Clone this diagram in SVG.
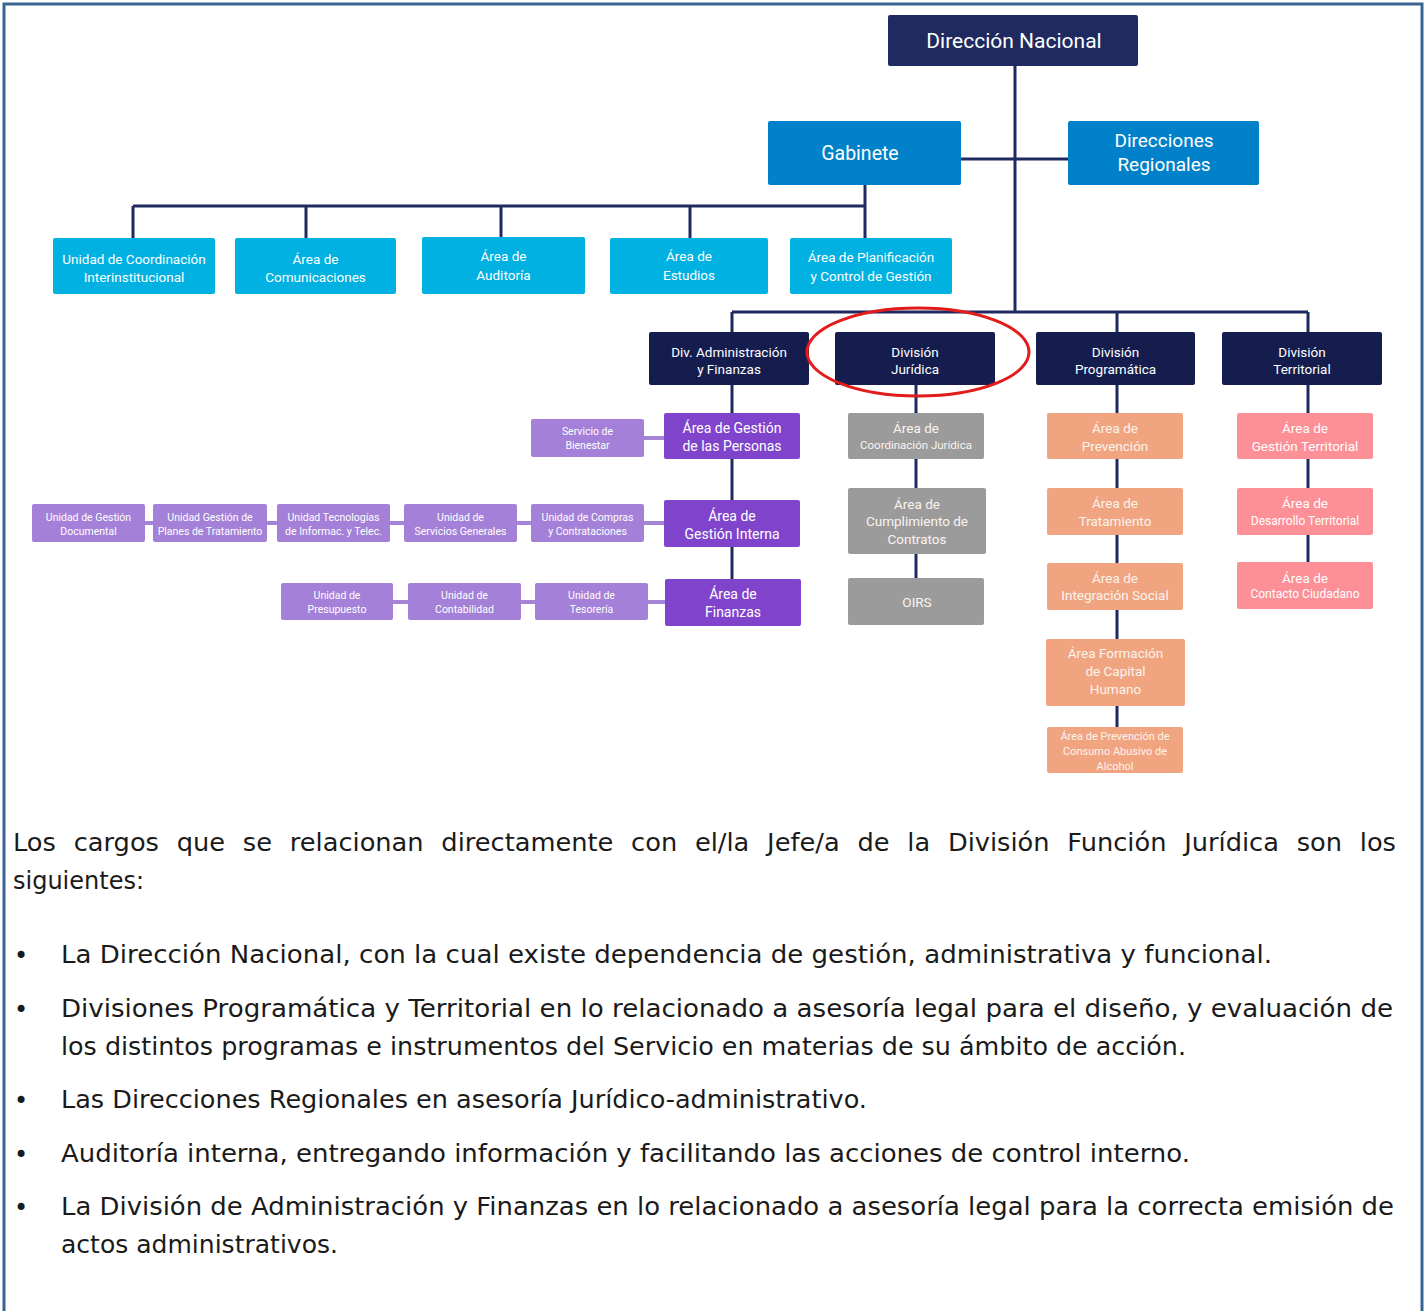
<svg xmlns="http://www.w3.org/2000/svg" width="1427" height="1311" viewBox="0 0 1427 1311">
<style>
.c{fill:none;stroke:#1f2a60;stroke-width:3}
.lc{fill:none;stroke:#a584d8;stroke-width:4}
.t{font-family:Roboto,"Noto Sans",sans-serif;font-weight:400;fill:#fff;text-anchor:middle}
.dn rect{fill:#1f2a60}
.gb rect{fill:#0081c9}
.lb rect{fill:#00b1e1}
.dv rect{fill:#141d4e}
.pm rect{fill:#8044cc}
.pl rect{fill:#a480d8}
.gr rect{fill:#9b9b9b}
.or rect{fill:#f0a580}
.pk rect{fill:#fc9096}
.or text,.gr text{fill:#fbf3ee}
.body{font-family:"DejaVu Sans","Liberation Sans",sans-serif;font-size:24px;fill:#1a1a1a}
</style>
<rect x="0" y="0" width="1427" height="1311" fill="#fff"/>
<path d="M4,1311 V4 H1422 V1311" fill="none" stroke="#3a6496" stroke-width="3"/>

<g id="connectors">
<path class="c" d="M1015,66 V312"/>
<path class="c" d="M961,159 H1068"/>
<path class="c" d="M865,185 V206 M133,206 H865 M133,206 V238 M306,206 V238 M501,206 V237 M690,206 V238 M865,206 V238"/>
<path class="c" d="M732,312 H1308 M732,312 V332 M1117,312 V332 M1308,312 V332"/>
<path class="c" d="M732,385 V579"/>
<path class="c" d="M916,385 V578"/>
<path class="c" d="M1117,385 V727"/>
<path class="c" d="M1308,385 V562"/>
<path class="lc" d="M644,438 H664 M145,523 H664 M393,602 H665"/>
</g>

<g id="direccion-nacional" class="dn"><rect x="888" y="15" width="250" height="51" rx="2"/><text class="t" x="1014" y="48" font-size="21">Dirección Nacional</text></g>
<g id="gabinete" class="gb"><rect x="768" y="121" width="193" height="64" rx="2"/><text class="t" x="860" y="160" font-size="19.5">Gabinete</text></g>
<g id="direcciones-regionales" class="gb"><rect x="1068" y="121" width="191" height="64" rx="2"/><text class="t" x="1164" y="147" font-size="19">Direcciones</text><text class="t" x="1164" y="171" font-size="19">Regionales</text></g>

<g id="unidad-coordinacion" class="lb"><rect x="53" y="238" width="162" height="56" rx="2"/><text class="t" x="134" y="264" font-size="13.5">Unidad de Coordinación</text><text class="t" x="134" y="282" font-size="13.5">Interinstitucional</text></g>
<g id="area-comunicaciones" class="lb"><rect x="235" y="238" width="161" height="56" rx="2"/><text class="t" x="315.5" y="264" font-size="13.5">Área de</text><text class="t" x="315.5" y="282" font-size="13.5">Comunicaciones</text></g>
<g id="area-auditoria" class="lb"><rect x="422" y="237" width="163" height="57" rx="2"/><text class="t" x="503.5" y="261" font-size="13.5">Área de</text><text class="t" x="503.5" y="280" font-size="13.5">Auditoría</text></g>
<g id="area-estudios" class="lb"><rect x="610" y="238" width="158" height="56" rx="2"/><text class="t" x="689" y="261" font-size="13.5">Área de</text><text class="t" x="689" y="280" font-size="13.5">Estudios</text></g>
<g id="area-planificacion" class="lb"><rect x="790" y="238" width="162" height="56" rx="2"/><text class="t" x="871" y="262" font-size="13.5">Área de Planificación</text><text class="t" x="871" y="281" font-size="13.5">y Control de Gestión</text></g>

<g id="div-administracion" class="dv"><rect x="649" y="332" width="160" height="53" rx="2"/><text class="t" x="729" y="357" font-size="13.5">Div. Administración</text><text class="t" x="729" y="374" font-size="13.5">y Finanzas</text></g>
<g id="division-juridica" class="dv"><rect x="835" y="332" width="160" height="53" rx="2"/><text class="t" x="915" y="357" font-size="13.5">División</text><text class="t" x="915" y="374" font-size="13.5">Jurídica</text></g>
<g id="division-programatica" class="dv"><rect x="1036" y="332" width="159" height="53" rx="2"/><text class="t" x="1115.5" y="357" font-size="13.5">División</text><text class="t" x="1115.5" y="374" font-size="13.5">Programática</text></g>
<g id="division-territorial" class="dv"><rect x="1222" y="332" width="160" height="53" rx="2"/><text class="t" x="1302" y="357" font-size="13.5">División</text><text class="t" x="1302" y="374" font-size="13.5">Territorial</text></g>

<g id="area-gestion-personas" class="pm"><rect x="664" y="413" width="136" height="46" rx="2"/><text class="t" x="732" y="433" font-size="14">Área de Gestión</text><text class="t" x="732" y="451" font-size="14">de las Personas</text></g>
<g id="servicio-bienestar" class="pl"><rect x="531" y="419" width="113" height="38" rx="2"/><text class="t" x="587.5" y="435" font-size="10.5">Servicio de</text><text class="t" x="587.5" y="449" font-size="10.5">Bienestar</text></g>
<g id="area-gestion-interna" class="pm"><rect x="664" y="500" width="136" height="47" rx="2"/><text class="t" x="732" y="521" font-size="14">Área de</text><text class="t" x="732" y="539" font-size="14">Gestión Interna</text></g>
<g id="unidad-gestion-documental" class="pl"><rect x="32" y="504" width="113" height="38" rx="2"/><text class="t" x="88.5" y="521" font-size="10.5">Unidad de Gestión</text><text class="t" x="88.5" y="535" font-size="10.5">Documental</text></g>
<g id="unidad-planes-tratamiento" class="pl"><rect x="153" y="504" width="114" height="38" rx="2"/><text class="t" x="210" y="521" font-size="10.5">Unidad Gestión de</text><text class="t" x="210" y="535" font-size="10.5">Planes de Tratamiento</text></g>
<g id="unidad-tecnologias" class="pl"><rect x="277" y="504" width="113" height="38" rx="2"/><text class="t" x="333.5" y="521" font-size="10.5">Unidad Tecnologías</text><text class="t" x="333.5" y="535" font-size="10.5">de Informac. y Telec.</text></g>
<g id="unidad-servicios-generales" class="pl"><rect x="404" y="504" width="113" height="38" rx="2"/><text class="t" x="460.5" y="521" font-size="10.5">Unidad de</text><text class="t" x="460.5" y="535" font-size="10.5">Servicios Generales</text></g>
<g id="unidad-compras" class="pl"><rect x="531" y="504" width="113" height="38" rx="2"/><text class="t" x="587.5" y="521" font-size="10.5">Unidad de Compras</text><text class="t" x="587.5" y="535" font-size="10.5">y Contrataciones</text></g>
<g id="area-finanzas" class="pm"><rect x="665" y="579" width="136" height="47" rx="2"/><text class="t" x="733" y="599" font-size="14">Área de</text><text class="t" x="733" y="617" font-size="14">Finanzas</text></g>
<g id="unidad-presupuesto" class="pl"><rect x="281" y="583" width="112" height="37" rx="2"/><text class="t" x="337" y="599" font-size="10.5">Unidad de</text><text class="t" x="337" y="613" font-size="10.5">Presupuesto</text></g>
<g id="unidad-contabilidad" class="pl"><rect x="408" y="583" width="113" height="37" rx="2"/><text class="t" x="464.5" y="599" font-size="10.5">Unidad de</text><text class="t" x="464.5" y="613" font-size="10.5">Contabilidad</text></g>
<g id="unidad-tesoreria" class="pl"><rect x="535" y="583" width="113" height="37" rx="2"/><text class="t" x="591.5" y="599" font-size="10.5">Unidad de</text><text class="t" x="591.5" y="613" font-size="10.5">Tesorería</text></g>

<g id="area-coordinacion-juridica" class="gr"><rect x="848" y="413" width="136" height="46" rx="2"/><text class="t" x="916" y="433" font-size="13.5">Área de</text><text class="t" x="916" y="449" font-size="11.5">Coordinación Jurídica</text></g>
<g id="area-cumplimiento-contratos" class="gr"><rect x="848" y="488" width="138" height="66" rx="2"/><text class="t" x="917" y="509" font-size="13.5">Área de</text><text class="t" x="917" y="526" font-size="13.5">Cumplimiento de</text><text class="t" x="917" y="544" font-size="13.5">Contratos</text></g>
<g id="oirs" class="gr"><rect x="848" y="578" width="136" height="47" rx="2"/><text class="t" x="917" y="607" font-size="13.5">OIRS</text></g>

<g id="area-prevencion" class="or"><rect x="1047" y="413" width="136" height="46" rx="2"/><text class="t" x="1115" y="433" font-size="13.5">Área de</text><text class="t" x="1115" y="451" font-size="13.5">Prevención</text></g>
<g id="area-tratamiento" class="or"><rect x="1047" y="488" width="136" height="47" rx="2"/><text class="t" x="1115" y="508" font-size="13.5">Área de</text><text class="t" x="1115" y="526" font-size="13.5">Tratamiento</text></g>
<g id="area-integracion-social" class="or"><rect x="1047" y="563" width="136" height="47" rx="2"/><text class="t" x="1115" y="583" font-size="13.5">Área de</text><text class="t" x="1115" y="600" font-size="13.5">Integración Social</text></g>
<g id="area-formacion-capital" class="or"><rect x="1046" y="639" width="139" height="67" rx="2"/><text class="t" x="1115.5" y="658" font-size="13.5">Área Formación</text><text class="t" x="1115.5" y="676" font-size="13.5">de Capital</text><text class="t" x="1115.5" y="694" font-size="13.5">Humano</text></g>
<g id="area-prevencion-alcohol" class="or"><rect x="1047" y="727" width="136" height="46" rx="2"/><text class="t" x="1115" y="740" font-size="11">Área de Prevención de</text><text class="t" x="1115" y="755" font-size="11">Consumo Abusivo de</text><text class="t" x="1115" y="770" font-size="11">Alcohol</text></g>

<g id="area-gestion-territorial" class="pk"><rect x="1237" y="413" width="136" height="46" rx="2"/><text class="t" x="1305" y="433" font-size="13.5">Área de</text><text class="t" x="1305" y="451" font-size="13.5">Gestión Territorial</text></g>
<g id="area-desarrollo-territorial" class="pk"><rect x="1237" y="488" width="136" height="47" rx="2"/><text class="t" x="1305" y="508" font-size="13.5">Área de</text><text class="t" x="1305" y="525" font-size="12">Desarrollo Territorial</text></g>
<g id="area-contacto-ciudadano" class="pk"><rect x="1237" y="562" width="136" height="47" rx="2"/><text class="t" x="1305" y="583" font-size="13.5">Área de</text><text class="t" x="1305" y="598" font-size="12">Contacto Ciudadano</text></g>

<ellipse id="highlight" cx="918" cy="352" rx="111" ry="44" fill="none" stroke="#e21b1b" stroke-width="3"/>

<g id="body-text" class="body">
<text x="13" y="851" word-spacing="9" textLength="1383" lengthAdjust="spacingAndGlyphs">Los cargos que se relacionan directamente con el/la Jefe/a de la División Función Jurídica son los</text>
<text x="13" y="889">siguientes:</text>
<text x="14" y="964">•</text>
<text x="61" y="963" textLength="1211" lengthAdjust="spacingAndGlyphs">La Dirección Nacional, con la cual existe dependencia de gestión, administrativa y funcional.</text>
<text x="14" y="1018">•</text>
<text x="61" y="1017" textLength="1332" lengthAdjust="spacingAndGlyphs">Divisiones Programática y Territorial en lo relacionado a asesoría legal para el diseño, y evaluación de</text>
<text x="61" y="1055" textLength="1125" lengthAdjust="spacingAndGlyphs">los distintos programas e instrumentos del Servicio en materias de su ámbito de acción.</text>
<text x="14" y="1109">•</text>
<text x="61" y="1108" textLength="806" lengthAdjust="spacingAndGlyphs">Las Direcciones Regionales en asesoría Jurídico-administrativo.</text>
<text x="14" y="1163">•</text>
<text x="61" y="1162" textLength="1129" lengthAdjust="spacingAndGlyphs">Auditoría interna, entregando información y facilitando las acciones de control interno.</text>
<text x="14" y="1216">•</text>
<text x="61" y="1215" textLength="1333" lengthAdjust="spacingAndGlyphs">La División de Administración y Finanzas en lo relacionado a asesoría legal para la correcta emisión de</text>
<text x="61" y="1253" textLength="277" lengthAdjust="spacingAndGlyphs">actos administrativos.</text>
</g>
</svg>
